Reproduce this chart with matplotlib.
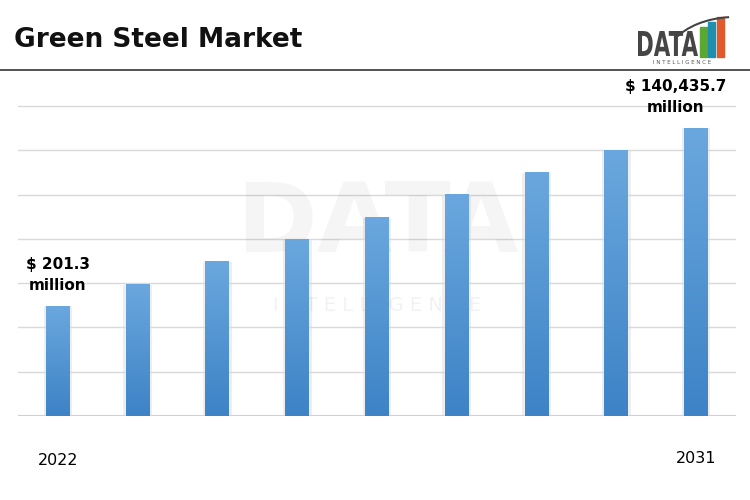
import matplotlib.pyplot as plt
import matplotlib.patches as mpatches
import numpy as np
from matplotlib.colors import LinearSegmentedColormap
from matplotlib.textpath import TextPath
from matplotlib.font_manager import FontProperties
from matplotlib.transforms import Affine2D

# data (relative bar heights, gridline units)
categories = list(range(9))
values = [2.48, 2.97, 3.49, 3.98, 4.48, 5.0, 5.49, 5.99, 6.5]
tick_labels = ['2022', '', '', '', '', '', '', '', '2031']
first_label = '$ 201.3\nmillion'
last_label = '$ 140,435.7\nmillion'

fig = plt.figure(figsize=(7.5, 5), dpi=100)
ax = fig.add_axes([18/750, 84/500, 718/750, 332/500])

# header
fig.text(14/750, 1 - 40/500, 'Green Steel Market', fontsize=19, fontweight='bold',
         family='DejaVu Sans', va='center', ha='left', color='#111111')
fig.add_artist(plt.Line2D([0, 1], [1 - 70/500, 1 - 70/500], color='#444444', lw=1.3))

# logo: condensed "DATA" drawn as a path, squeezed horizontally
tp = TextPath((0, 0), 'DATA', size=10, prop=FontProperties(family='DejaVu Sans', weight='bold'))
bb = tp.get_extents()
sx = 60 / bb.width
sy = 25 / bb.height
tr = Affine2D().translate(-bb.x0, -bb.y0).scale(sx, sy).translate(638, 500 - 56) + \
    Affine2D().scale(1/750, 1/500) + fig.transFigure
fig.add_artist(mpatches.PathPatch(tp, transform=tr, color='#454545', lw=0))
for x0, c, h in zip([700, 708, 717], ['#5aa832', '#1f8fb0', '#e05a2b'], [30, 35, 40]):
    fig.add_artist(mpatches.Rectangle((x0/750, 1 - 57/500), 7/750, h/500,
                                      color=c, transform=fig.transFigure))
fig.add_artist(mpatches.Arc((735/750, 1 - 62/500), 140/750, 90/500, theta1=95, theta2=150,
                            color='#444444', lw=1.5, transform=fig.transFigure))
fig.text(682/750, 1 - 63/500, 'I N T E L L I G E N C E', fontsize=4, color='#555555',
         ha='center', va='center')

# watermark
ax.text(4, 4.3, 'DATA', fontsize=70, fontweight='bold', color='#000000', alpha=0.04,
        ha='center', va='center')
ax.text(4, 2.5, 'I N T E L L I G E N C E', fontsize=14, color='#000000', alpha=0.05,
        ha='center', va='center')

# gradient bars
width = 0.3
grad = np.linspace(0, 1, 100).reshape(-1, 1)
cmap = LinearSegmentedColormap.from_list('b', ['#3d83c6', '#6aa7de'])
for x, v in zip(categories, values):
    ax.bar(x, v, width + 0.06, color='#d5dbe2', alpha=0.45, zorder=2)
    ax.imshow(grad, cmap=cmap, aspect='auto', origin='lower',
              extent=[x - width/2, x + width/2, 0, v], zorder=3)

ax.set_xlim(-0.5, 8.5)
ax.set_ylim(0, 7.5)
ax.set_yticks(range(0, 8))
ax.yaxis.grid(True, color='#d9d9d9', lw=1)
ax.set_axisbelow(True)
ax.tick_params(left=False, bottom=False, labelleft=False, labelbottom=False)
for s in ax.spines.values():
    s.set_visible(False)
ax.axhline(0, color='#d0d0d0', lw=1.5, zorder=1)

ax.text(categories[0], values[0] + 0.3, first_label, ha='center', va='bottom',
        fontsize=11, fontweight='bold', family='DejaVu Sans', linespacing=1.5)
ax.text(categories[-1] - 0.26, values[-1] + 0.3, last_label, ha='center', va='bottom',
        fontsize=11, fontweight='bold', family='DejaVu Sans', linespacing=1.5)

ax.text(categories[0], -1.0, tick_labels[0], ha='center', va='center', fontsize=11.5, family='DejaVu Sans')
ax.text(categories[-1], -0.95, tick_labels[-1], ha='center', va='center', fontsize=11.5, family='DejaVu Sans')

fig.savefig('out.png', dpi=100)
